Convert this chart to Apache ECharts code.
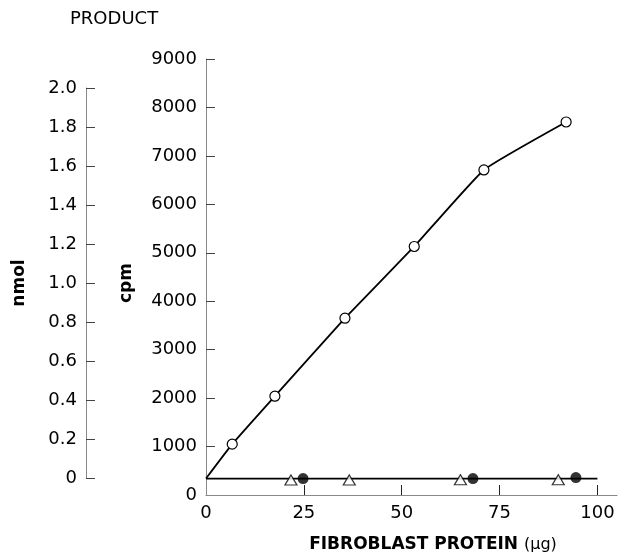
<!DOCTYPE html>
<html>
<head>
<meta charset="utf-8">
<script src="https://cdn.jsdelivr.net/npm/echarts@6/dist/echarts.min.js"></script>
<style>html,body{margin:0;padding:0;background:#fff}#c{width:628px;height:556px}</style>
</head>
<body>
<div id="c"></div>
<script>
// Open circles (enzyme activity), first point is the line origin (no marker)
const proteinOpen = [0, 6.7, 17.6, 35.5, 53.2, 71, 92];
const cpmOpen = [340, 1050, 2040, 3650, 5130, 6710, 7700];
// Open triangles
const proteinTri = [21.7, 36.6, 65, 90];
const cpmTri = [310, 310, 315, 315];
// Filled circles
const proteinFilled = [24.8, 68.2, 94.5];
const cpmFilled = [340, 340, 360];
// Baseline
const proteinBase = [0, 100];
const cpmBase = [340, 340];
// Axis ticks
const xTicks = [0, 25, 50, 75, 100];
const cpmTicks = [0, 1000, 2000, 3000, 4000, 5000, 6000, 7000, 8000, 9000];
const nmolTicks = [0, 0.2, 0.4, 0.6, 0.8, 1.0, 1.2, 1.4, 1.6, 1.8, 2.0];

const FONT = 'DejaVu Sans';
const axisColor = '#888';
const ink = '#000';

const pairs = (xs, ys) => xs.map((x, i) => [x, ys[i]]);

const chart = echarts.init(document.getElementById('c'), null, {renderer: 'canvas'});
chart.setOption({
  backgroundColor: '#fff',
  animation: false,
  grid: [
    {left: 206, right: 11, top: 59, bottom: 61},
    {left: 86, width: 1, top: 88, bottom: 78}
  ],
  xAxis: [
    {
      gridIndex: 0, type: 'value', min: 0, max: 105,
      axisLine: {show: true, lineStyle: {color: axisColor, width: 1}},
      axisTick: {show: true, inside: true, length: 10, customValues: xTicks.slice(1), lineStyle: {color: '#222'}},
      axisLabel: {customValues: xTicks, color: ink, fontFamily: FONT, fontSize: 18, margin: 9,
        formatter: v => String(v)},
      splitLine: {show: false}
    },
    {gridIndex: 1, type: 'value', min: 0, max: 1, show: false}
  ],
  yAxis: [
    {
      gridIndex: 0, type: 'value', min: 0, max: 9000, interval: 1000,
      axisLine: {show: true, lineStyle: {color: axisColor, width: 1}},
      axisTick: {show: true, inside: true, length: 9, customValues: cpmTicks.slice(1), lineStyle: {color: '#444'}},
      axisLabel: {customValues: cpmTicks, color: ink, fontFamily: FONT, fontSize: 18, margin: 9,
        formatter: v => String(v)},
      splitLine: {show: false}
    },
    {
      gridIndex: 1, type: 'value', min: 0, max: 2.0, interval: 0.2,
      axisLine: {show: true, lineStyle: {color: axisColor, width: 1}},
      axisTick: {show: true, inside: true, length: 9, customValues: nmolTicks, lineStyle: {color: '#444'}},
      axisLabel: {customValues: nmolTicks, color: ink, fontFamily: FONT, fontSize: 18, margin: 9,
        formatter: v => v === 0 ? '0' : v.toFixed(1)},
      splitLine: {show: false}
    }
  ],
  series: [
    {
      type: 'line', xAxisIndex: 0, yAxisIndex: 0,
      data: pairs(proteinBase, cpmBase), symbol: 'none',
      lineStyle: {color: ink, width: 1.8}, z: 2
    },
    {
      type: 'line', xAxisIndex: 0, yAxisIndex: 0,
      data: pairs(proteinOpen, cpmOpen).map((p, i) => i === 0 ? {value: p, symbol: 'none'} : {value: p}),
      smooth: 0.12,
      symbol: 'circle', symbolSize: 10,
      itemStyle: {color: '#fff', borderColor: ink, borderWidth: 1.2},
      lineStyle: {color: ink, width: 1.8}, z: 3
    },
    {
      type: 'scatter', xAxisIndex: 0, yAxisIndex: 0,
      data: pairs(proteinTri, cpmTri),
      symbol: 'triangle', symbolSize: [12, 10],
      itemStyle: {color: '#fff', borderColor: ink, borderWidth: 1.2}, z: 4
    },
    {
      type: 'scatter', xAxisIndex: 0, yAxisIndex: 0,
      data: pairs(proteinFilled, cpmFilled),
      symbol: 'circle', symbolSize: 11,
      itemStyle: {color: ink}, z: 4
    }
  ],
  graphic: [
    {type: 'text', x: 70, y: 19, style: {text: 'PRODUCT', fill: ink, font: '18px "DejaVu Sans"', align: 'left', verticalAlign: 'middle'}},
    {type: 'text', x: 20, y: 283, rotation: Math.PI / 2, style: {text: 'nmol', fill: ink, font: 'bold 17px "DejaVu Sans"', align: 'center', verticalAlign: 'middle'}},
    {type: 'text', x: 127, y: 283, rotation: Math.PI / 2, style: {text: 'cpm', fill: ink, font: 'bold 17px "DejaVu Sans"', align: 'center', verticalAlign: 'middle'}},
    {type: 'text', x: 433, y: 545, style: {
      text: '{b|FIBROBLAST PROTEIN }{r|(μg)}', align: 'center', verticalAlign: 'middle',
      rich: {
        b: {fontFamily: FONT, fontWeight: 'bold', fontSize: 17, fill: ink},
        r: {fontFamily: FONT, fontSize: 16, fill: ink}
      }
    }}
  ]
});
</script>
</body>
</html>
